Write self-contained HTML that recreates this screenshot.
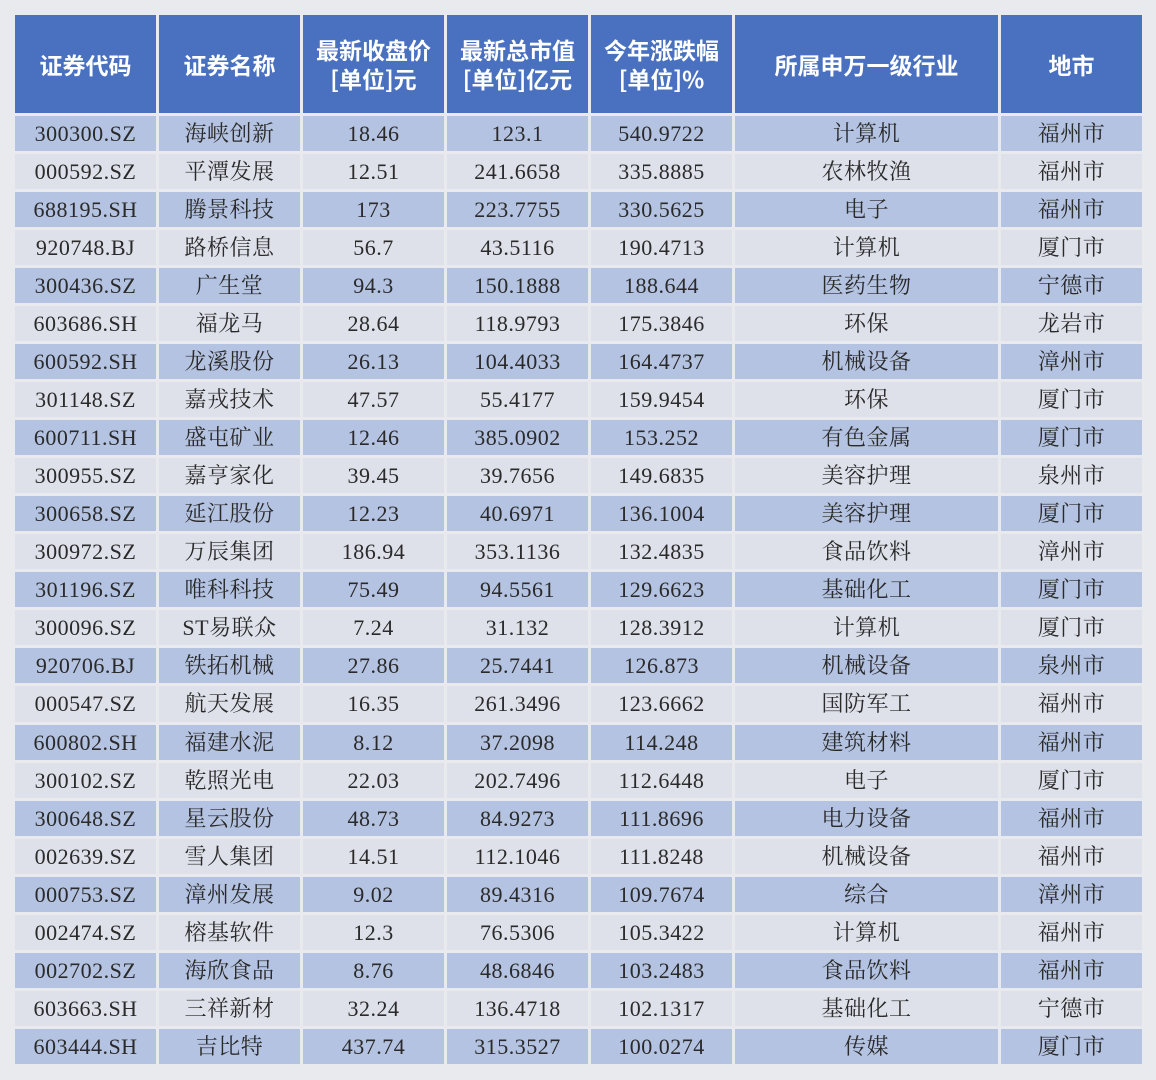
<!DOCTYPE html>
<html><head><meta charset="utf-8"><style>
html,body{margin:0;padding:0;background:#e9eaed;width:1156px;height:1080px;overflow:hidden}
.g{position:absolute;left:15px;top:15px;display:grid;grid-template-columns:141px 141px 141px 141px 141px 263px 141px;grid-template-rows:98px repeat(25,35.04px);gap:3px}
.g div{text-align:center;white-space:nowrap;overflow:hidden;display:flex;align-items:center;justify-content:center}
.h{background:#4a71c0;color:#fff;font:bold 23px/1.25 "Noto Sans CJK SC",sans-serif;flex-direction:column}
.o,.e{font:22px/35px "Liberation Serif","Noto Serif CJK SC",serif;color:#2a2a2a;letter-spacing:0.5px}
.o{background:#b4c3e1}.e{background:#dee1ea}
</style></head><body>
<div class="g" id="g">
<div class="h">证券代码</div><div class="h">证券名称</div><div class="h">最新收盘价<br>[单位]元</div><div class="h">最新总市值<br>[单位]亿元</div><div class="h">今年涨跌幅<br>[单位]%</div><div class="h">所属申万一级行业</div><div class="h">地市</div>
<div class="o">300300.SZ</div><div class="o">海峡创新</div><div class="o">18.46</div><div class="o">123.1</div><div class="o">540.9722</div><div class="o">计算机</div><div class="o">福州市</div>
<div class="e">000592.SZ</div><div class="e">平潭发展</div><div class="e">12.51</div><div class="e">241.6658</div><div class="e">335.8885</div><div class="e">农林牧渔</div><div class="e">福州市</div>
<div class="o">688195.SH</div><div class="o">腾景科技</div><div class="o">173</div><div class="o">223.7755</div><div class="o">330.5625</div><div class="o">电子</div><div class="o">福州市</div>
<div class="e">920748.BJ</div><div class="e">路桥信息</div><div class="e">56.7</div><div class="e">43.5116</div><div class="e">190.4713</div><div class="e">计算机</div><div class="e">厦门市</div>
<div class="o">300436.SZ</div><div class="o">广生堂</div><div class="o">94.3</div><div class="o">150.1888</div><div class="o">188.644</div><div class="o">医药生物</div><div class="o">宁德市</div>
<div class="e">603686.SH</div><div class="e">福龙马</div><div class="e">28.64</div><div class="e">118.9793</div><div class="e">175.3846</div><div class="e">环保</div><div class="e">龙岩市</div>
<div class="o">600592.SH</div><div class="o">龙溪股份</div><div class="o">26.13</div><div class="o">104.4033</div><div class="o">164.4737</div><div class="o">机械设备</div><div class="o">漳州市</div>
<div class="e">301148.SZ</div><div class="e">嘉戎技术</div><div class="e">47.57</div><div class="e">55.4177</div><div class="e">159.9454</div><div class="e">环保</div><div class="e">厦门市</div>
<div class="o">600711.SH</div><div class="o">盛屯矿业</div><div class="o">12.46</div><div class="o">385.0902</div><div class="o">153.252</div><div class="o">有色金属</div><div class="o">厦门市</div>
<div class="e">300955.SZ</div><div class="e">嘉亨家化</div><div class="e">39.45</div><div class="e">39.7656</div><div class="e">149.6835</div><div class="e">美容护理</div><div class="e">泉州市</div>
<div class="o">300658.SZ</div><div class="o">延江股份</div><div class="o">12.23</div><div class="o">40.6971</div><div class="o">136.1004</div><div class="o">美容护理</div><div class="o">厦门市</div>
<div class="e">300972.SZ</div><div class="e">万辰集团</div><div class="e">186.94</div><div class="e">353.1136</div><div class="e">132.4835</div><div class="e">食品饮料</div><div class="e">漳州市</div>
<div class="o">301196.SZ</div><div class="o">唯科科技</div><div class="o">75.49</div><div class="o">94.5561</div><div class="o">129.6623</div><div class="o">基础化工</div><div class="o">厦门市</div>
<div class="e">300096.SZ</div><div class="e">ST易联众</div><div class="e">7.24</div><div class="e">31.132</div><div class="e">128.3912</div><div class="e">计算机</div><div class="e">厦门市</div>
<div class="o">920706.BJ</div><div class="o">铁拓机械</div><div class="o">27.86</div><div class="o">25.7441</div><div class="o">126.873</div><div class="o">机械设备</div><div class="o">泉州市</div>
<div class="e">000547.SZ</div><div class="e">航天发展</div><div class="e">16.35</div><div class="e">261.3496</div><div class="e">123.6662</div><div class="e">国防军工</div><div class="e">福州市</div>
<div class="o">600802.SH</div><div class="o">福建水泥</div><div class="o">8.12</div><div class="o">37.2098</div><div class="o">114.248</div><div class="o">建筑材料</div><div class="o">福州市</div>
<div class="e">300102.SZ</div><div class="e">乾照光电</div><div class="e">22.03</div><div class="e">202.7496</div><div class="e">112.6448</div><div class="e">电子</div><div class="e">厦门市</div>
<div class="o">300648.SZ</div><div class="o">星云股份</div><div class="o">48.73</div><div class="o">84.9273</div><div class="o">111.8696</div><div class="o">电力设备</div><div class="o">福州市</div>
<div class="e">002639.SZ</div><div class="e">雪人集团</div><div class="e">14.51</div><div class="e">112.1046</div><div class="e">111.8248</div><div class="e">机械设备</div><div class="e">福州市</div>
<div class="o">000753.SZ</div><div class="o">漳州发展</div><div class="o">9.02</div><div class="o">89.4316</div><div class="o">109.7674</div><div class="o">综合</div><div class="o">漳州市</div>
<div class="e">002474.SZ</div><div class="e">榕基软件</div><div class="e">12.3</div><div class="e">76.5306</div><div class="e">105.3422</div><div class="e">计算机</div><div class="e">福州市</div>
<div class="o">002702.SZ</div><div class="o">海欣食品</div><div class="o">8.76</div><div class="o">48.6846</div><div class="o">103.2483</div><div class="o">食品饮料</div><div class="o">福州市</div>
<div class="e">603663.SH</div><div class="e">三祥新材</div><div class="e">32.24</div><div class="e">136.4718</div><div class="e">102.1317</div><div class="e">基础化工</div><div class="e">宁德市</div>
<div class="o">603444.SH</div><div class="o">吉比特</div><div class="o">437.74</div><div class="o">315.3527</div><div class="o">100.0274</div><div class="o">传媒</div><div class="o">厦门市</div>
</div>
</body></html>
